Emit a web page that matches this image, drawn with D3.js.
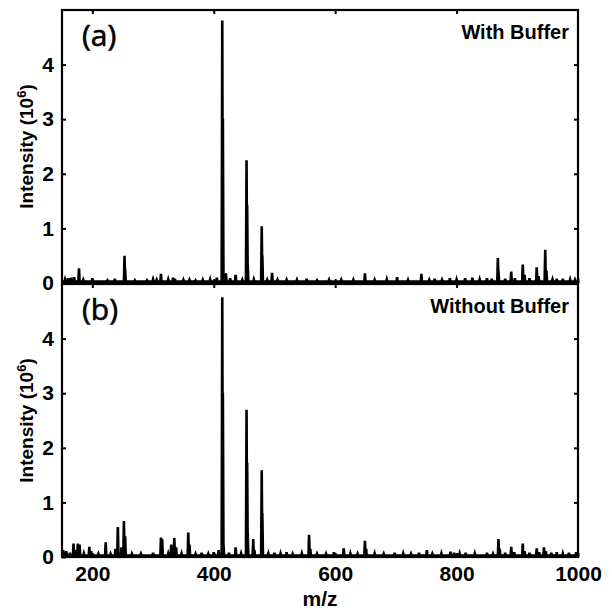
<!DOCTYPE html>
<html>
<head>
<meta charset="utf-8">
<title>Mass spectra with and without buffer</title>
<style>
  body { margin: 0; background: #fff; }
  svg { display: block; }
  .tick text { font-family: 'Liberation Sans', Arial, sans-serif; font-weight: bold; font-size: 21px; fill: #000; }
  .tick line { stroke: #000; stroke-width: 2px; }
  .lbl { font-family: 'Liberation Sans', Arial, sans-serif; font-weight: bold; fill: #000; }
  .tag { font-family: 'Open Sans', sans-serif; font-size: 30px; fill: #000; stroke: #000; stroke-width: 0.6px; }
</style>
</head>
<body>
<div id="chart"></div>
<script src="https://d3js.org/d3.v7.min.js"></script>
<script>

// peaks: [m/z, intensity in 10^6]
var peaksWith = [
  [155,0.04],[160,0.06],[165,0.07],[170,0.08],[178,0.24],[185,0.03],[200,0.06],[225,0.02],
  [237,0.05],[253,0.47],[254,0.23],[270,0.02],[290,0.02],[300,0.04],[306,0.03],[313,0.14],
  [325,0.04],[333,0.07],[336,0.05],[350,0.03],[360,0.03],[370,0.02],[382,0.03],[394,0.04],
  [405,0.07],[414,4.78],[415,2.98],[416,0.15],[420,0.15],[427,0.06],[436,0.12],[447,0.03],
  [454,2.22],[455,1.40],[456,0.3],[466,0.04],[479,1.01],[480,0.48],[488,0.03],[496,0.16],
  [505,0.03],[520,0.03],[537,0.03],[553,0.05],[570,0.02],[590,0.03],[610,0.03],[630,0.03],
  [649,0.15],[665,0.03],[685,0.04],[702,0.08],[720,0.03],[742,0.14],[755,0.03],[764,0.05],
  [776,0.03],[789,0.06],[800,0.04],[814,0.06],[826,0.07],[838,0.04],[850,0.06],[858,0.05],
  [868,0.43],[869,0.2],[880,0.05],[890,0.18],[896,0.06],[909,0.31],[912,0.12],[920,0.06],
  [932,0.26],[935,0.1],[946,0.58],[948,0.2],[958,0.04],[965,0.05],[975,0.05],[987,0.04],[995,0.03]
];

var peaksWithout = [
  [152,0.1],[157,0.08],[163,0.05],[169,0.22],[172,0.1],[176,0.22],[179,0.2],[186,0.04],
  [195,0.16],[198,0.08],[210,0.03],[222,0.24],[230,0.03],[238,0.12],[242,0.52],[248,0.15],
  [252,0.63],[254,0.35],[265,0.03],[280,0.03],[300,0.05],[313,0.33],[315,0.3],[325,0.04],
  [330,0.2],[335,0.32],[338,0.15],[347,0.04],[358,0.42],[360,0.2],[370,0.03],[380,0.05],
  [391,0.03],[400,0.06],[408,0.1],[414,4.73],[415,2.98],[416,0.2],[425,0.05],[436,0.15],
  [445,0.04],[454,2.67],[455,1.7],[456,0.4],[465,0.3],[467,0.1],[479,1.56],[480,0.78],
  [490,0.04],[500,0.05],[510,0.04],[520,0.06],[530,0.03],[545,0.04],[557,0.38],[559,0.12],
  [570,0.03],[585,0.03],[598,0.06],[614,0.13],[625,0.04],[637,0.03],[649,0.27],[651,0.12],
  [665,0.04],[680,0.03],[698,0.05],[712,0.04],[725,0.03],[738,0.05],[751,0.1],[760,0.03],
  [775,0.04],[790,0.07],[796,0.05],[805,0.04],[815,0.05],[830,0.04],[850,0.05],[860,0.03],
  [869,0.3],[871,0.12],[880,0.05],[890,0.16],[895,0.06],[909,0.22],[912,0.08],[920,0.05],
  [932,0.13],[936,0.06],[944,0.15],[947,0.08],[956,0.05],[965,0.06],[975,0.04],[985,0.05],[997,0.06]
];

var xTicks = [200, 400, 600, 800, 1000];
var yTicks = [0, 1, 2, 3, 4];
var panels = [
  {tag: "(a)", name: "With Buffer", peaks: peaksWith},
  {tag: "(b)", name: "Without Buffer", peaks: peaksWithout}
];

var W = 612, H = 616;
var left = 62, right = 578;
var panelTop = [10, 284], panelH = 273;

var svg = d3.select("#chart").append("svg")
    .attr("width", W)
    .attr("height", H);

var x = d3.scaleLinear().domain([150, 1000]).range([left, right]);

panels.forEach(function(p, i) {
  var top = panelTop[i], bottom = top + panelH;
  var y = d3.scaleLinear().domain([0, 5]).range([bottom, top]);

  svg.append("clipPath").attr("id", "clip" + i)
    .append("rect").attr("x", left).attr("y", top).attr("width", right - left).attr("height", panelH);

  // spectrum: each peak is a narrow spike from the baseline
  var pts = [[150, 0]];
  p.peaks.forEach(function(d) {
    pts.push([d[0] - 1, 0], [d[0], d[1]], [d[0] + 1, 0]);
  });
  pts.push([1000, 0]);

  var line = d3.line()
    .x(function(d) { return x(d[0]); })
    .y(function(d) { return y(d[1]) - 1.5; });

  svg.append("path")
    .datum(pts)
    .attr("clip-path", "url(#clip" + i + ")")
    .attr("d", line)
    .attr("fill", "none")
    .attr("stroke", "#000")
    .attr("stroke-width", 2.6)
    .attr("stroke-linejoin", "miter");

  // axes with inward ticks
  var ax = svg.append("g").attr("transform", "translate(" + left + ",0)")
    .call(d3.axisLeft(y).tickValues(yTicks).tickSize(-4).tickPadding(8).tickFormat(d3.format("d")));
  ax.select(".domain").remove();

  svg.append("g").attr("transform", "translate(" + right + ",0)")
    .call(d3.axisRight(y).tickValues(yTicks.slice(1)).tickSize(-4).tickFormat(""))
    .select(".domain").remove();

  svg.append("g").attr("transform", "translate(0," + top + ")")
    .call(d3.axisTop(x).tickValues(xTicks.slice(0, 4)).tickSize(-4).tickFormat(""))
    .select(".domain").remove();

  var bx = svg.append("g").attr("transform", "translate(0," + bottom + ")")
    .call(d3.axisBottom(x).tickValues(xTicks).tickSize(-4).tickPadding(9)
      .tickFormat(i === 1 ? d3.format("d") : ""));
  bx.select(".domain").remove();

  svg.append("rect")
    .attr("x", left).attr("y", top)
    .attr("width", right - left).attr("height", panelH)
    .attr("fill", "none").attr("stroke", "#000").attr("stroke-width", 2.2);

  svg.append("text").attr("class", "tag")
    .attr("x", 82).attr("y", top + 36)
    .text(p.tag);

  svg.append("text").attr("class", "lbl")
    .attr("x", 569).attr("y", top + 29)
    .attr("text-anchor", "end")
    .style("font-size", "20px")
    .text(p.name);

  var yl = svg.append("text").attr("class", "lbl")
    .attr("transform", "translate(33," + (top + panelH / 2) + ") rotate(-90)")
    .attr("text-anchor", "middle")
    .style("font-size", "19px");
  yl.append("tspan").text("Intensity (10");
  yl.append("tspan").attr("dy", -7).style("font-size", "13px").text("6");
  yl.append("tspan").attr("dy", 7).text(")");
});

svg.append("text").attr("class", "lbl")
  .attr("x", (left + right) / 2).attr("y", 606)
  .attr("text-anchor", "middle")
  .style("font-size", "21px")
  .text("m/z");

</script>
</body>
</html>
